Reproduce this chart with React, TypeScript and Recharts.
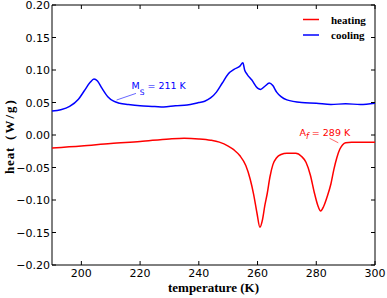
import { LineChart, Line, XAxis, YAxis, ReferenceArea, ReferenceLine, Legend } from "recharts";

// heating run (K, W/g)
const heatingT = [190, 200, 210, 220, 230, 235, 240, 244, 247, 250, 252, 254, 256, 257.5, 258.7, 259.8, 260.8, 261.7, 262.5, 263.3, 264.2, 265.2, 266.5, 268, 270, 273, 275, 276.5, 278, 279.3, 280.5, 281.5, 282.5, 283.7, 285, 286, 287, 288, 289, 290, 292, 300];
const heatingQ = [-0.02, -0.017, -0.013, -0.01, -0.006, -0.005, -0.006, -0.008, -0.011, -0.017, -0.023, -0.032, -0.047, -0.068, -0.092, -0.12, -0.142, -0.13, -0.108, -0.09, -0.065, -0.046, -0.035, -0.03, -0.028, -0.028, -0.033, -0.042, -0.062, -0.088, -0.108, -0.117, -0.11, -0.095, -0.075, -0.053, -0.035, -0.022, -0.015, -0.012, -0.011, -0.011];

// cooling run
const coolingT = [190, 193, 196, 199, 201, 203, 204.3, 205.5, 207, 209, 211, 213, 216, 220, 225, 228, 232, 236, 240, 242, 244, 246, 248, 250, 252, 254, 255, 255.6, 256.5, 258, 260, 261, 262.5, 264, 265.2, 266.5, 268, 270, 275, 280, 285, 290, 295, 300];
const coolingQ = [0.037, 0.039, 0.044, 0.055, 0.068, 0.081, 0.086, 0.083, 0.072, 0.059, 0.052, 0.049, 0.047, 0.045, 0.044, 0.043, 0.045, 0.046, 0.05, 0.052, 0.057, 0.066, 0.08, 0.094, 0.101, 0.106, 0.111, 0.1, 0.093, 0.085, 0.072, 0.07, 0.075, 0.08, 0.076, 0.066, 0.059, 0.054, 0.05, 0.049, 0.047, 0.048, 0.047, 0.049];

const xTicks = [200, 220, 240, 260, 280, 300];
const yTicks = [-0.2, -0.15, -0.1, -0.05, 0, 0.05, 0.1, 0.15, 0.2];

// annotation pointers (data coords)
const msPointer = [{ x: 212, y: 0.0538 }, { x: 218.6, y: 0.064 }];
const afPointer = [{ x: 284.5, y: -0.005 }, { x: 287.5, y: -0.012 }];

const W = 387;
const H = 298;
const MARGIN = { top: 5, right: 12, left: 0, bottom: 0 };
const Y_W = 52;
const X_H = 33;
const PLOT = {
  left: MARGIN.left + Y_W,
  right: W - MARGIN.right,
  top: MARGIN.top,
  bottom: H - MARGIN.bottom - X_H,
};

const SANS = "'DejaVu Sans', sans-serif";
const SERIF = "'Liberation Serif', serif";
const RED = "#ff0000";
const BLUE = "#0000ff";

const heating = heatingT.map((t, i) => ({ t, q: heatingQ[i] }));
const cooling = coolingT.map((t, i) => ({ t, q: coolingQ[i] }));

function fmtY(v: number): string {
  const s = Math.abs(v).toFixed(2);
  return v < 0 ? `\u2212${s}` : s;
}

function XTick(props: any) {
  const { x, payload } = props;
  return (
    <g>
      <line x1={x} x2={x} y1={PLOT.bottom} y2={PLOT.bottom - 4} stroke="#000" />
      <line x1={x} x2={x} y1={PLOT.top} y2={PLOT.top + 4} stroke="#000" />
      <text x={x} y={PLOT.bottom + 12} textAnchor="middle" fontFamily={SANS} fontSize={11} fill="#000">
        {payload.value}
      </text>
    </g>
  );
}

function YTick(props: any) {
  const { y, payload } = props;
  return (
    <g>
      <line x1={PLOT.left} x2={PLOT.left + 4} y1={y} y2={y} stroke="#000" />
      <line x1={PLOT.right} x2={PLOT.right - 4} y1={y} y2={y} stroke="#000" />
      <text x={PLOT.left - 2} y={y + 4} textAnchor="end" fontFamily={SANS} fontSize={11} fill="#000">
        {fmtY(payload.value)}
      </text>
    </g>
  );
}

function renderLegend() {
  return (
    <svg width={80} height={40}>
      <line x1={5} x2={21} y1={11.5} y2={11.5} stroke={RED} strokeWidth={1.5} />
      <text x={33} y={15.5} fontFamily={SERIF} fontWeight="bold" fontSize={11} fill="#000">heating</text>
      <line x1={5} x2={21} y1={27} y2={27} stroke={BLUE} strokeWidth={1.5} />
      <text x={33} y={31} fontFamily={SERIF} fontWeight="bold" fontSize={11} fill="#000">cooling</text>
    </svg>
  );
}

export default function App() {
  return (
    <div style={{ position: "absolute", left: 0, top: 0, width: W, height: H, background: "#fff" }}>
      <LineChart width={W} height={H} margin={MARGIN}>
        <XAxis
          dataKey="t"
          type="number"
          domain={[190, 300]}
          ticks={xTicks}
          interval={0}
          allowDataOverflow
          height={X_H}
          axisLine={false}
          tickLine={false}
          tick={<XTick />}
          label={() => (
            <text x={(PLOT.left + PLOT.right) / 2} y={292} textAnchor="middle" fontFamily={SERIF} fontWeight="bold" fontSize={13} fill="#000">
              temperature (K)
            </text>
          )}
        />
        <YAxis
          type="number"
          domain={[-0.2, 0.2]}
          ticks={yTicks}
          interval={0}
          allowDataOverflow
          width={Y_W}
          axisLine={false}
          tickLine={false}
          tick={<YTick />}
          label={() => (
            <text transform="translate(14,136) rotate(-90)" textAnchor="middle" fontFamily={SERIF} fontWeight="bold" fontSize={13} fill="#000">
              <tspan letterSpacing={0.8}>heat</tspan>
              <tspan dx={7} letterSpacing={2}>(W/g)</tspan>
            </text>
          )}
        />
        <ReferenceArea x1={190} x2={300} y1={-0.2} y2={0.2} fill="none" stroke="#000" strokeWidth={1} />
        <Line data={heating} dataKey="q" name="heating" type="monotone" stroke={RED} strokeWidth={1.5} dot={false} isAnimationActive={false} />
        <Line data={cooling} dataKey="q" name="cooling" type="monotone" stroke={BLUE} strokeWidth={1.5} dot={false} isAnimationActive={false} />
        <ReferenceLine
          segment={msPointer}
          stroke={BLUE}
          strokeWidth={0.6}
          label={(p: any) => {
            const vb = p.viewBox || { x: 116.7, y: 93.3, width: 19.3, height: 6.7 };
            return (
              <text x={vb.x + vb.width - 4.5} y={vb.y - 4} fontFamily={SANS} fontSize={9.5} fill={BLUE}>
                M<tspan dy={5.5} fontSize={7.5}>S</tspan>
                <tspan dy={-5.5}> = 211 K</tspan>
              </text>
            );
          }}
        />
        <ReferenceLine
          segment={afPointer}
          stroke={RED}
          strokeWidth={0.6}
          label={(p: any) => {
            const vb = p.viewBox || { x: 329.3, y: 138.3, width: 9, height: 4.4 };
            return (
              <text x={vb.x - 30} y={vb.y - 2.3} fontFamily={SANS} fontSize={9.5} fill={RED}>
                A<tspan dy={3.5} fontSize={8} fontStyle="italic">f</tspan>
                <tspan dy={-3.5}> = 289 K</tspan>
              </text>
            );
          }}
        />
        <Legend
          layout="vertical"
          align="center"
          verticalAlign="middle"
          content={renderLegend}
          wrapperStyle={{ left: 298, top: 8, width: 80 }}
        />
      </LineChart>
    </div>
  );
}
